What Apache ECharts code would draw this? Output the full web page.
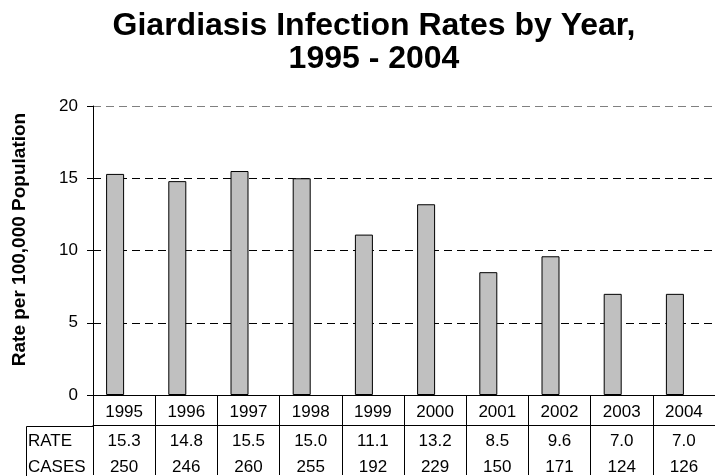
<!DOCTYPE html>
<html>
<head>
<meta charset="utf-8">
<script src="https://cdn.jsdelivr.net/npm/echarts@6/dist/echarts.min.js"></script>
<style>
	html, body { margin: 0; padding: 0; background: #fff; }
	#chart { width: 715px; height: 476px; }
</style>
</head>
<body>
<div id="chart"></div>
<script>
// data
var years = ['1995', '1996', '1997', '1998', '1999', '2000', '2001', '2002', '2003', '2004']
var rates = [15.3, 14.8, 15.5, 15.0, 11.1, 13.2, 8.5, 9.6, 7.0, 7.0]
var cases = [250, 246, 260, 255, 192, 229, 150, 171, 124, 126]
var rowNames = ['RATE', 'CASES']
var yTicks = [0, 5, 10, 15, 20]

var font = 'Arial, "Liberation Sans", sans-serif'
var gridLeft = 93
var gridBottom = 80
var H = 476

var chart = echarts.init(document.getElementById('chart'))

chart.setOption({
	animation: false,
	title: {
		text: 'Giardiasis Infection Rates by Year,\n1995 - 2004',
		left: 369,
		top: 5,
		textAlign: 'center',
		textStyle: {
			fontFamily: font,
			fontWeight: 'bold',
			fontSize: 32,
			lineHeight: 33,
			color: '#000',
		},
	},
	grid: {
		left: gridLeft,
		right: 0,
		top: 106,
		bottom: gridBottom,
	},
	xAxis: [
		{
			// year row
			type: 'category',
			data: years,
			position: 'bottom',
			axisLine: { onZero: false, lineStyle: { color: '#000', width: 1 } },
			axisTick: { show: true, interval: 0, length: 80, lineStyle: { color: '#000' } },
			axisLabel: { interval: 0, margin: 9, color: '#000', fontFamily: font, fontSize: 17 },
		},
		{
			// RATE row
			type: 'category',
			data: years,
			position: 'bottom',
			offset: 30,
			name: rowNames[0],
			nameLocation: 'start',
			nameGap: 65,
			nameTextStyle: { align: 'left', verticalAlign: 'top', padding: [8, 0, 0, 0], color: '#000', fontFamily: font, fontSize: 17 },
			axisLine: { show: true, onZero: false, lineStyle: { color: '#000', width: 1 } },
			axisTick: { show: false },
			axisLabel: {
				interval: 0, margin: 8, color: '#000', fontFamily: font, fontSize: 17,
				formatter: function(v, i) { return rates[i].toFixed(1) },
			},
		},
		{
			// CASES row
			type: 'category',
			data: years,
			position: 'bottom',
			offset: 56,
			name: rowNames[1],
			nameLocation: 'start',
			nameGap: 65,
			nameTextStyle: { align: 'left', verticalAlign: 'top', padding: [8, 0, 0, 0], color: '#000', fontFamily: font, fontSize: 17 },
			axisLine: { show: false, onZero: false },
			axisTick: { show: false },
			axisLabel: {
				interval: 0, margin: 8, color: '#000', fontFamily: font, fontSize: 17,
				formatter: function(v, i) { return String(cases[i]) },
			},
		},
	],
	yAxis: [
		{
			type: 'value',
			min: yTicks[0],
			max: yTicks[yTicks.length - 1],
			interval: 5,
			name: 'Rate per 100,000 Population',
			nameLocation: 'middle',
			nameGap: 64,
			nameTextStyle: { fontFamily: font, fontWeight: 'bold', fontSize: 19, color: '#000', padding: [0, 0, 0, 22] },
			axisLine: { show: true, lineStyle: { color: '#000', width: 1 } },
			axisTick: { show: true, length: 6, lineStyle: { color: '#000' } },
			axisLabel: { margin: 15, color: '#000', fontFamily: font, fontSize: 17 },
			splitLine: {
				show: true,
				lineStyle: { color: ['#000', '#000', '#000', '#000', '#808080'], type: [8, 5], width: 1 },
			},
		},
		{
			// hidden axis for the unfilled second series
			type: 'value',
			show: false,
			splitLine: { show: false },
		},
	],
	series: [
		{
			name: 'Rate',
			type: 'bar',
			data: rates,
			barWidth: 18,
			barGap: '0%',
			itemStyle: { color: '#c0c0c0', borderColor: '#000', borderWidth: 1 },
		},
		{
			// cases are plotted with no fill, so they only take their slot
			name: 'Cases',
			type: 'bar',
			yAxisIndex: 1,
			data: cases,
			barWidth: 18,
			barGap: '0%',
			silent: true,
			itemStyle: { color: 'transparent', borderWidth: 0 },
		},
	],
	graphic: [
		{
			type: 'polyline',
			shape: { points: [[26.5, H], [26.5, H - gridBottom + 30.5], [gridLeft, H - gridBottom + 30.5]] },
			style: { stroke: '#000', lineWidth: 1, fill: null },
		},
	],
})
</script>
</body>
</html>
